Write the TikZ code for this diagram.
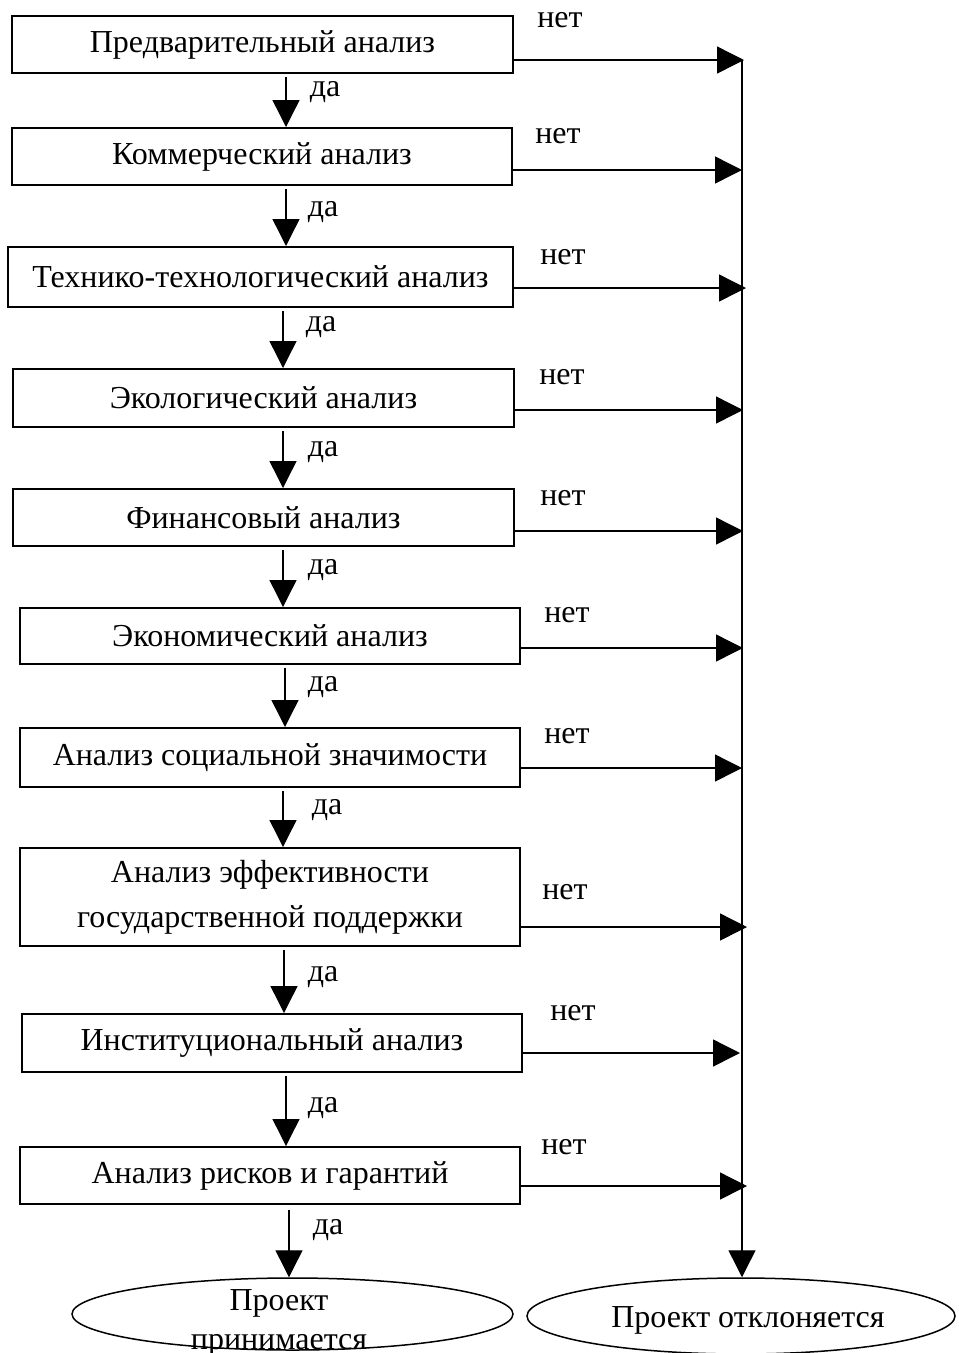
\documentclass[tikz,border=0pt]{standalone}
\usepackage{fontspec}
\setmainfont{Liberation Serif}
\usetikzlibrary{arrows.meta,shapes.geometric}
\begin{document}
\begin{tikzpicture}[x=1pt,y=-1pt,
  every node/.style={font=\fontsize{32}{37}\selectfont, inner sep=0pt},
  box/.style={draw, line width=2pt, rectangle, minimum width=500pt},
  ell/.style={draw, ellipse, line width=1.5pt},
  lbl/.style={},
  arr/.style={line width=1.4pt, -{Triangle[length=27pt,width=27pt]}},
  down/.style={arr, shorten <=3pt}]
\useasboundingbox (0,0) rectangle (959,1353);

% analysis boxes
\node[box, minimum width=501pt, minimum height=57pt] (b1) at (262.5,44.5) {Предварительный анализ};
\node[box, minimum width=500pt, minimum height=57pt] (b2) at (262,156.5) {Коммерческий анализ};
\node[box, minimum width=505pt, minimum height=60pt] (b3) at (260.5,277) {Технико-технологический анализ};
\node[box, minimum width=501pt, minimum height=58pt] (b4) at (263.5,398) {Экологический анализ};
\node[box, minimum width=501pt, minimum height=57pt] (b5) at (263.5,517.5) {Финансовый анализ};
\node[box, minimum height=56pt] (b6) at (270,636) {Экономический анализ};
\node[box, minimum height=59pt] (b7) at (270,757.5) {Анализ социальной значимости};
\node[box, minimum height=98pt, align=center, font=\fontsize{32}{45}\selectfont] (b8) at (270,897) {Анализ эффективности\\государственной поддержки};
\node[box, minimum height=58pt] (b9) at (272,1043) {Институциональный анализ};
\node[box, minimum height=57pt] (b10) at (270,1175.5) {Анализ рисков и гарантий};

% outcome ellipses
\node[ell, minimum width=441pt, minimum height=72pt] (acc) at (292.5,1314) {};
\node[align=center, font=\fontsize{32}{39}\selectfont] (acct) at (279,1323) {Проект\\принимается};
\node[ell, minimum width=428pt, minimum height=76pt] (rej) at (741,1316) {};
\node (rejt) at (748,1320) {Проект отклоняется};

% "yes" column x-positions
\coordinate (d1) at (286,0);
\coordinate (d2) at (286,0);
\coordinate (d3) at (283,0);
\coordinate (d4) at (283,0);
\coordinate (d5) at (283,0);
\coordinate (d6) at (285,0);
\coordinate (d7) at (283,0);
\coordinate (d8) at (284,0);
\coordinate (d9) at (286,0);
\coordinate (d10) at (289,0);

\draw[down] (b1.south -| d1) -- (b2.north -| d1);
\draw[down] (b2.south -| d2) -- (b3.north -| d2);
\draw[down] (b3.south -| d3) -- (b4.north -| d3);
\draw[down] (b4.south -| d4) -- (b5.north -| d4);
\draw[down] (b5.south -| d5) -- (b6.north -| d5);
\draw[down] (b6.south -| d6) -- (b7.north -| d6);
\draw[down] (b7.south -| d7) -- (b8.north -| d7);
\draw[down] (b8.south -| d8) -- (b9.north -| d8);
\draw[down] (b9.south -| d9) -- (b10.north -| d9);
\draw[down, shorten <=5pt] (b10.south -| d10) -- (acc.north -| d10);

% "yes" labels
\node[lbl] (y1) at (325,92) {да};
\node[lbl] (y2) at (323,212) {да};
\node[lbl] (y3) at (321,327) {да};
\node[lbl] (y4) at (323,452) {да};
\node[lbl] (y5) at (323,570) {да};
\node[lbl] (y6) at (323,687) {да};
\node[lbl] (y7) at (327,810) {да};
\node[lbl] (y8) at (323,977) {да};
\node[lbl] (y9) at (323,1108) {да};
\node[lbl] (y10) at (328,1230) {да};

% rejection line points
\coordinate (r1) at (744,60);
\coordinate (r2) at (742,170);
\coordinate (r3) at (746,288);
\coordinate (r4) at (743,410);
\coordinate (r5) at (743,531);
\coordinate (r6) at (743,648);
\coordinate (r7) at (742,768);
\coordinate (r8) at (747,927);
\coordinate (r9) at (740,1053);
\coordinate (r10) at (747,1186);
\coordinate (top) at (742,60);

\draw[arr] (b1.east |- r1) -- (r1);
\draw[arr] (b2.east |- r2) -- (r2);
\draw[arr] (b3.east |- r3) -- (r3);
\draw[arr] (b4.east |- r4) -- (r4);
\draw[arr] (b5.east |- r5) -- (r5);
\draw[arr] (b6.east |- r6) -- (r6);
\draw[arr] (b7.east |- r7) -- (r7);
\draw[arr] (b8.east |- r8) -- (r8);
\draw[arr] (b9.east |- r9) -- (r9);
\draw[arr] (b10.east |- r10) -- (r10);

\draw[arr] (top) -- (rej.north -| top);

% "no" labels
\node[lbl] (n1) at (560,20) {нет};
\node[lbl] (n2) at (558,136) {нет};
\node[lbl] (n3) at (563,257) {нет};
\node[lbl] (n4) at (562,377) {нет};
\node[lbl] (n5) at (563,498) {нет};
\node[lbl] (n6) at (567,615) {нет};
\node[lbl] (n7) at (567,736) {нет};
\node[lbl] (n8) at (565,892) {нет};
\node[lbl] (n9) at (573,1013) {нет};
\node[lbl] (n10) at (564,1147) {нет};
\end{tikzpicture}
\end{document}
